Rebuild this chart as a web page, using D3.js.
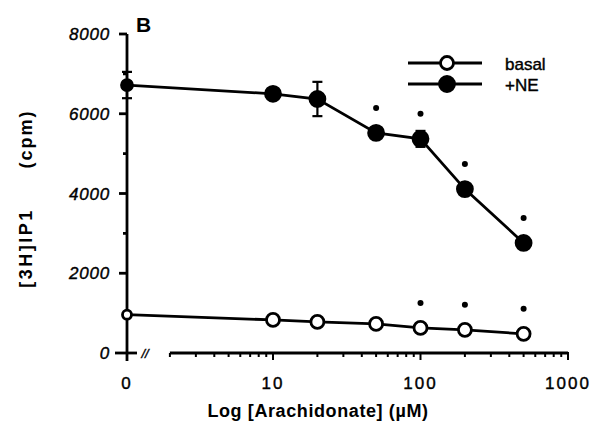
<!DOCTYPE html>
<html>
<head>
<meta charset="utf-8">
<script src="https://cdn.jsdelivr.net/npm/d3@7"></script>
<style>
    body { margin: 0; background: #fff; }
    svg { display: block; font-family: "Liberation Sans", Arial, sans-serif; }
    .line { fill: none; stroke: #000; stroke-width: 2.8; }
    .axis-line { stroke: #000; stroke-width: 2.8; fill: none; }
    .tick-label { font-size: 17px; fill: #000; stroke: #000; stroke-width: 0.4; }
</style>
</head>
<body>
<svg id="chart" width="594" height="426"></svg>
<script>
// concentrations (uM); 0 sits on the y axis
var conc = [0, 10, 20, 50, 100, 200, 500];
var basal = [960, 830, 780, 730, 630, 580, 480];
var basalErr = [0, 0, 0, 0, 0, 0, 0];
var ne = [6720, 6500, 6370, 5520, 5370, 4110, 2760];
var neErr = [330, 0, 430, 0, 200, 150, 150];
// significance dots
var basalSig = [0, 0, 0, 0, 1, 1, 1];
var neSig = [0, 0, 0, 1, 1, 1, 1];
var yTicks = [0, 2000, 4000, 6000, 8000];
var yMinor = [1000, 3000, 5000, 7000];
var xTicks = [10, 100, 1000];
var legendNames = ["basal", "+NE"];

(function () {
    var svg = d3.select("#chart");

    var axisX0 = 127, axisY0 = 353;

    var x = d3.scaleLog().domain([10, 1000]).range([273, 568]);
    var y = d3.scaleLinear().domain([0, 8000]).range([axisY0, 34]);

    function px(c) { return c === 0 ? axisX0 : x(c); }

    // y axis
    svg.append("line").classed("axis-line", true)
        .attr("x1", axisX0).attr("x2", axisX0)
        .attr("y1", y(8000)).attr("y2", axisY0 + 8);

    svg.selectAll("line.ytick").data(yTicks).enter().append("line")
        .classed("axis-line", true)
        .attr("x1", function (d) { return d === 0 ? 115 : axisX0 - 8; })
        .attr("x2", function (d) { return d === 0 ? 137 : axisX0; })
        .attr("y1", function (d) { return y(d); })
        .attr("y2", function (d) { return y(d); });

    svg.selectAll("line.yminor").data(yMinor).enter().append("line")
        .classed("axis-line", true)
        .attr("x1", axisX0 - 4).attr("x2", axisX0)
        .attr("y1", function (d) { return y(d); })
        .attr("y2", function (d) { return y(d); });

    svg.selectAll("text.ylab").data(yTicks).enter().append("text")
        .classed("tick-label", true)
        .attr("x", 110)
        .attr("y", function (d) { return y(d) + 6; })
        .attr("text-anchor", "end")
        .attr("font-style", "italic")
        .attr("letter-spacing", 0.8)
        .text(function (d) { return d; });

    // x axis (log part)
    var xDomain = [2, 1000];
    svg.append("line").classed("axis-line", true)
        .attr("x1", x(xDomain[0])).attr("x2", x(xDomain[1]))
        .attr("y1", axisY0).attr("y2", axisY0);

    var minor = [];
    [1, 10, 100].forEach(function (dec) {
        for (var k = 2; k <= 9; k++) {
            if (dec * k >= 2) minor.push(dec * k);
        }
    });
    svg.selectAll("line.xminor").data(minor).enter().append("line")
        .attr("stroke", "#000").attr("stroke-width", 2)
        .attr("x1", function (d) { return x(d); })
        .attr("x2", function (d) { return x(d); })
        .attr("y1", axisY0).attr("y2", axisY0 + 4);

    svg.selectAll("line.xmajor").data(xTicks).enter().append("line")
        .attr("stroke", "#000").attr("stroke-width", 2)
        .attr("x1", function (d) { return x(d); })
        .attr("x2", function (d) { return x(d); })
        .attr("y1", axisY0 - 1).attr("y2", axisY0 + 7);

    svg.selectAll("text.xlab").data([0].concat(xTicks)).enter().append("text")
        .classed("tick-label", true)
        .attr("x", function (d) { return px(d); })
        .attr("y", 389)
        .attr("text-anchor", "middle")
        .attr("font-size", 16)
        .attr("letter-spacing", 2)
        .text(function (d) { return d; });

    // axis break
    svg.append("text")
        .attr("x", 145).attr("y", 358)
        .attr("text-anchor", "middle")
        .attr("font-size", 13)
        .attr("font-style", "italic")
        .attr("stroke", "#000").attr("stroke-width", 0.4)
        .text("//");

    // titles
    svg.append("text")
        .attr("x", 318).attr("y", 417)
        .attr("text-anchor", "middle")
        .attr("font-size", 18).attr("font-weight", "bold")
        .attr("letter-spacing", 0.6)
        .text("Log [Arachidonate] (\u00b5M)");

    svg.append("text")
        .attr("transform", "translate(32,248) rotate(-90)")
        .attr("text-anchor", "middle")
        .attr("font-size", 18).attr("font-weight", "bold")
        .attr("letter-spacing", 2.5)
        .text("[3H]IP1");
    svg.append("text")
        .attr("transform", "translate(32,139) rotate(-90)")
        .attr("text-anchor", "middle")
        .attr("font-size", 18).attr("font-weight", "bold")
        .attr("letter-spacing", 2)
        .text("(cpm)");

    svg.append("text")
        .attr("x", 136).attr("y", 32)
        .attr("font-size", 21).attr("font-weight", "bold")
        .text("B");

    // series
    var series = [
        { name: legendNames[0], vals: basal, err: basalErr, sig: basalSig, filled: false, r: 6.5 },
        { name: legendNames[1], vals: ne, err: neErr, sig: neSig, filled: true, r: 7.5 }
    ];

    var line = d3.line()
        .x(function (d) { return px(d.c); })
        .y(function (d) { return y(d.v); });

    series.forEach(function (s) {
        var pts = conc.map(function (c, i) {
            return { c: c, v: s.vals[i], e: s.err[i], sig: s.sig[i] };
        });

        svg.append("path").classed("line", true)
            .datum(pts).attr("d", line);

        var eb = svg.append("g").selectAll("g")
            .data(pts.filter(function (d) { return d.e > 0; }))
            .enter().append("g")
            .attr("stroke", "#000").attr("stroke-width", 2.2);
        eb.append("line")
            .attr("x1", function (d) { return px(d.c); })
            .attr("x2", function (d) { return px(d.c); })
            .attr("y1", function (d) { return y(d.v + d.e); })
            .attr("y2", function (d) { return y(d.v - d.e); });
        eb.append("line")
            .attr("x1", function (d) { return px(d.c) - 5; })
            .attr("x2", function (d) { return px(d.c) + 5; })
            .attr("y1", function (d) { return y(d.v + d.e); })
            .attr("y2", function (d) { return y(d.v + d.e); });
        eb.append("line")
            .attr("x1", function (d) { return px(d.c) - 5; })
            .attr("x2", function (d) { return px(d.c) + 5; })
            .attr("y1", function (d) { return y(d.v - d.e); })
            .attr("y2", function (d) { return y(d.v - d.e); });

        svg.append("g").selectAll("circle")
            .data(pts)
            .enter().append("circle")
            .attr("cx", function (d) { return px(d.c); })
            .attr("cy", function (d) { return y(d.v); })
            .attr("r", function (d) { return d.c === 0 ? s.r - 2 : s.r; })
            .attr("fill", s.filled ? "#000" : "#fff")
            .attr("stroke", "#000")
            .attr("stroke-width", 2.8);

        svg.append("g").selectAll("circle")
            .data(pts.filter(function (d) { return d.sig; }))
            .enter().append("circle")
            .attr("cx", function (d) { return px(d.c); })
            .attr("cy", function (d) { return y(d.v) - 25; })
            .attr("r", 3)
            .attr("fill", "#000");
    });

    // legend
    var lg = svg.append("g").selectAll("g")
        .data(series).enter().append("g")
        .attr("transform", function (d, i) { return "translate(0," + (63 + i * 21) + ")"; });
    lg.append("line")
        .attr("x1", 408).attr("x2", 482)
        .attr("stroke", "#000").attr("stroke-width", 2.8);
    lg.append("circle")
        .attr("cx", 447)
        .attr("r", function (d) { return d.r; })
        .attr("fill", function (d) { return d.filled ? "#000" : "#fff"; })
        .attr("stroke", "#000").attr("stroke-width", 2.8);
    lg.append("text")
        .attr("x", 505).attr("y", 7)
        .attr("font-size", 17)
        .attr("stroke", "#000").attr("stroke-width", 0.4)
        .text(function (d) { return d.name; });
})();
</script>
</body>
</html>
